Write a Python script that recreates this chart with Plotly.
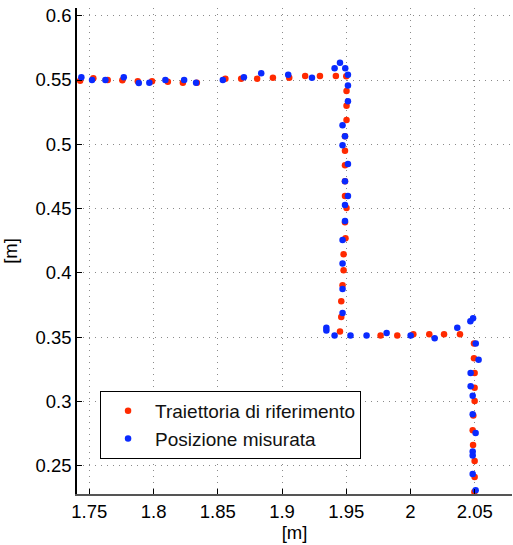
import plotly.graph_objects as go

ref_x = [1.7428, 1.7531, 1.7643, 1.7757, 1.7877, 1.7988, 1.8111, 1.8228, 1.8337, 1.8559,
         1.8682, 1.8806, 1.8929, 1.9056, 1.9180, 1.9295, 1.9419, 1.9500,
         1.9502, 1.9502, 1.9502, 1.9490, 1.9490, 1.9490, 1.9490, 1.9490, 1.9502, 1.9490,
         1.9494, 1.9479, 1.9479, 1.9471, 1.9461, 1.9461, 1.9451,
         1.9767, 1.9897, 2.0022, 2.0146, 2.0261, 2.0385,
         2.0494, 2.0494, 2.0499, 2.0499, 2.0499, 2.0489, 2.0484, 2.0487, 2.0499, 2.0499, 2.0497]
ref_y = [0.5495, 0.5513, 0.5500, 0.5498, 0.5490, 0.5490, 0.5487, 0.5479, 0.5479, 0.5510,
         0.5510, 0.5510, 0.5518, 0.5518, 0.5531, 0.5531, 0.5531, 0.5529,
         0.5414, 0.5300, 0.5189, 0.5062, 0.4950, 0.4837, 0.4712, 0.4598, 0.4505, 0.4393,
         0.4269, 0.4145, 0.4020, 0.3904, 0.3780, 0.3656, 0.3543,
         0.3512, 0.3512, 0.3523, 0.3523, 0.3523, 0.3523,
         0.3450, 0.3336, 0.3222, 0.3107, 0.3004, 0.2890, 0.2776, 0.2662, 0.2537, 0.2413, 0.2296]

mis_x = [1.7438, 1.7521, 1.7625, 1.7768, 1.7885, 1.7967, 1.8092, 1.8238, 1.8331, 1.8539,
         1.8703, 1.8838, 1.9048, 1.9233, 1.9409, 1.9451, 1.9492, 1.9513,
         1.9513, 1.9513, 1.9471, 1.9490, 1.9471, 1.9513, 1.9490, 1.9513, 1.9490, 1.9490,
         1.9471, 1.9471, 1.9471, 1.9471, 1.9345, 1.9345,
         1.9409, 1.9533, 1.9658, 1.9814, 2.0001, 2.0188, 2.0364, 2.0466, 2.0487,
         2.0508, 2.0530, 2.0468, 2.0468, 2.0484, 2.0484, 2.0507, 2.0484, 2.0484, 2.0484, 2.0507]
mis_y = [0.5521, 0.5500, 0.5500, 0.5521, 0.5477, 0.5479, 0.5500, 0.5500, 0.5479, 0.5500,
         0.5521, 0.5552, 0.5541, 0.5518, 0.5591, 0.5635, 0.5591, 0.5541,
         0.5457, 0.5334, 0.5148, 0.5062, 0.4992, 0.4847, 0.4712, 0.4598, 0.4528, 0.4404,
         0.4256, 0.4072, 0.3875, 0.3687, 0.3574, 0.3552,
         0.3512, 0.3512, 0.3512, 0.3533, 0.3512, 0.3491, 0.3574, 0.3624, 0.3647,
         0.3450, 0.3325, 0.3222, 0.3118, 0.3045, 0.2900, 0.2755, 0.2610, 0.2579, 0.2436, 0.2309]

x_ticks = [1.75, 1.8, 1.85, 1.9, 1.95, 2.0, 2.05]
x_labels = ["1.75", "1.8", "1.85", "1.9", "1.95", "2", "2.05"]
y_ticks = [0.25, 0.3, 0.35, 0.4, 0.45, 0.5, 0.55, 0.6]
y_labels = ["0.25", "0.3", "0.35", "0.4", "0.45", "0.5", "0.55", "0.6"]

FONT = "Liberation Sans, Arial, Helvetica, sans-serif"

fig = go.Figure()
fig.add_trace(go.Scatter(x=ref_x, y=ref_y, mode="markers", name="Traiettoria di riferimento",
                         marker=dict(color="#ff2a00", size=6.5, line=dict(width=0))))
fig.add_trace(go.Scatter(x=mis_x, y=mis_y, mode="markers", name="Posizione misurata",
                         marker=dict(color="#0a2aff", size=6.5, line=dict(width=0))))

axis_common = dict(showgrid=True, gridcolor="#8a8a8a", griddash="1px,5px", gridwidth=1,
                   zeroline=False, ticks="inside", ticklen=5, tickcolor="#000",
                   ticklabeloverflow="allow",
                   tickfont=dict(family=FONT, size=18.5, color="#000"), mirror=False)

fig.update_xaxes(range=[1.7404, 2.079], tickvals=x_ticks, ticktext=x_labels,
                 showline=True, linecolor="#555", linewidth=1.5, automargin=False,
                 title=dict(text="[m]", font=dict(family=FONT, size=18.5, color="#000"), standoff=0),
                 **axis_common)
fig.update_yaxes(range=[0.228, 0.606], tickvals=y_ticks, ticktext=y_labels,
                 showline=True, linecolor="#000", linewidth=1.5, automargin=False,
                 title=dict(text="[m]", font=dict(family=FONT, size=18.5, color="#000"), standoff=14),
                 **axis_common)

fig.update_layout(
    width=513, height=545,
    margin=dict(l=77, r=1, t=8, b=51),
    plot_bgcolor="white", paper_bgcolor="white",
    font=dict(family=FONT, size=18.5, color="#000"),
    legend=dict(x=0.053, y=0.212, xanchor="left", yanchor="top",
                bordercolor="#000", borderwidth=1, bgcolor="white",
                font=dict(family=FONT, size=19, color="#111"),
                itemsizing="trace", itemwidth=44, tracegroupgap=0),
    showlegend=True,
)

fig.write_html("out.html",
               config={"displayModeBar": False},
               post_script="document.body.style.margin='0';document.body.style.overflow='hidden';")
